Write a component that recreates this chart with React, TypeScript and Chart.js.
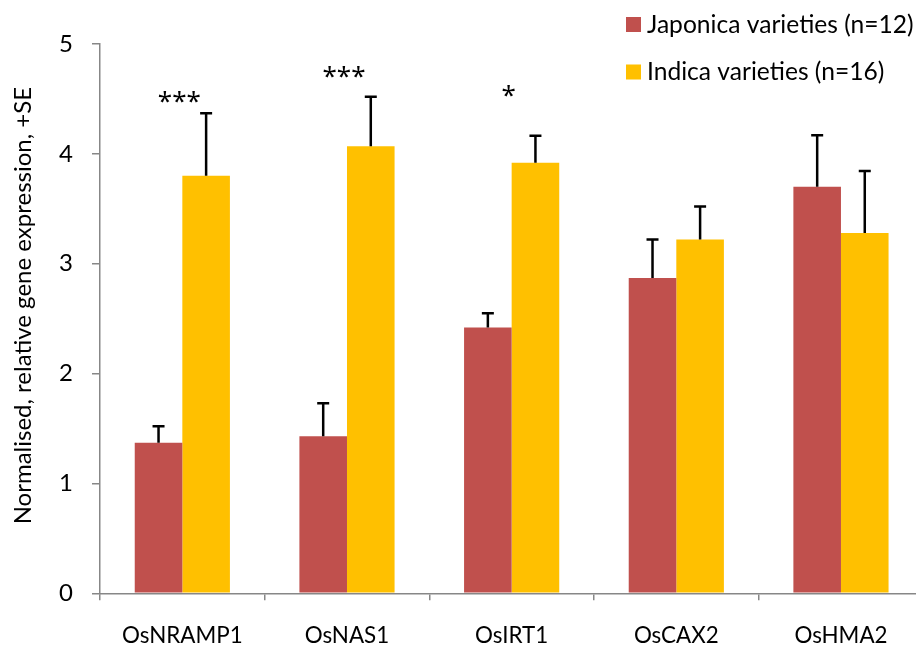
import { useEffect, useRef } from "react";
import { Chart, registerables } from "chart.js";

Chart.register(...registerables);

// Gene expression data (mean and standard error)
const genes = ["OsNRAMP1", "OsNAS1", "OsIRT1", "OsCAX2", "OsHMA2"];
const japonicaMean = [1.37, 1.43, 2.42, 2.87, 3.7];
const japonicaSE = [0.15, 0.3, 0.13, 0.35, 0.47];
const indicaMean = [3.8, 4.07, 3.92, 3.22, 3.28];
const indicaSE = [0.57, 0.45, 0.245, 0.3, 0.565];
const significance = ["***", "***", "*", "", ""];
const seriesNames = ["Japonica varieties (n=12)", "Indica varieties (n=16)"];
const yTickValues = [0, 1, 2, 3, 4, 5];

const RED = "#C0504D";
const YELLOW = "#FFC000";
const AXIS = "#878787";
const FONT = "Lato, 'Liberation Sans', sans-serif";

// heights (in data units) where the significance stars sit
const starLevels = [4.5, 4.73, 4.55, 0, 0];

export default function App() {
  const ref = useRef<HTMLCanvasElement | null>(null);

  useEffect(() => {
    if (!ref.current) return;
    const errors = [japonicaSE, indicaSE];

    const errorBars = {
      id: "errorBars",
      afterDatasetsDraw(chart: any) {
        const ctx = chart.ctx;
        const y = chart.scales.y;
        ctx.save();
        ctx.strokeStyle = "#000";
        ctx.lineWidth = 2.5;
        chart.data.datasets.forEach((ds: any, i: number) => {
          const meta = chart.getDatasetMeta(i);
          meta.data.forEach((bar: any, j: number) => {
            const v = ds.data[j];
            const base = y.getPixelForValue(v);
            const top = y.getPixelForValue(v + errors[i][j]);
            ctx.beginPath();
            ctx.moveTo(bar.x, base);
            ctx.lineTo(bar.x, top);
            ctx.moveTo(bar.x - 6, top);
            ctx.lineTo(bar.x + 6, top);
            ctx.stroke();
          });
        });
        ctx.restore();
      },
    };

    const extras = {
      id: "extras",
      afterDraw(chart: any) {
        const ctx = chart.ctx;
        const x = chart.scales.x;
        const y = chart.scales.y;
        const area = chart.chartArea;
        ctx.save();
        // significance stars
        ctx.fillStyle = "#000";
        ctx.font = "26px 'Noto Sans', sans-serif";
        ctx.textAlign = "center";
        ctx.textBaseline = "alphabetic";
        significance.forEach((s, i) => {
          if (!s) return;
          const px = x.getPixelForValue(i) - 3;
          const py = y.getPixelForValue(starLevels[i]);
          ctx.fillText(s, px, py + 11);
        });
        // y-axis title
        ctx.font = `24px ${FONT}`;
        ctx.save();
        ctx.translate(23, (area.top + area.bottom) / 2 - 13);
        ctx.rotate(-Math.PI / 2);
        ctx.textAlign = "center";
        ctx.textBaseline = "middle";
        ctx.fillText("Normalised, relative gene expression, +SE", 0, 0);
        ctx.restore();
        // legend
        const colors = [RED, YELLOW];
        ctx.font = `24.6px ${FONT}`;
        ctx.textAlign = "left";
        ctx.textBaseline = "middle";
        seriesNames.forEach((name, i) => {
          const top = 17 + i * 47.5;
          ctx.fillStyle = colors[i];
          ctx.fillRect(626, top, 15, 15);
          ctx.fillStyle = "#000";
          ctx.fillText(name, 647, top + 8);
        });
        ctx.restore();
      },
    };

    const chart = new Chart(ref.current, {
      type: "bar",
      data: {
        labels: genes,
        datasets: [
          {
            label: seriesNames[0],
            data: japonicaMean,
            backgroundColor: RED,
            categoryPercentage: 0.578,
            barPercentage: 1,
          },
          {
            label: seriesNames[1],
            data: indicaMean,
            backgroundColor: YELLOW,
            categoryPercentage: 0.578,
            barPercentage: 1,
          },
        ],
      },
      options: {
        animation: false,
        responsive: false,
        maintainAspectRatio: false,
        layout: { padding: { top: 44, right: 16.7, bottom: 0, left: 0 } },
        plugins: { legend: { display: false }, tooltip: { enabled: false } },
        scales: {
          x: {
            afterFit(scale: any) {
              scale.height = 53.7;
            },
            grid: {
              offset: true,
              drawOnChartArea: false,
              drawTicks: true,
              tickLength: 7,
              color: AXIS,
              lineWidth: 1.5,
            },
            border: { color: AXIS, width: 1.5 },
            ticks: { color: "#000", font: { family: FONT, size: 22.4 }, padding: 22 },
          },
          y: {
            min: 0,
            max: 5,
            afterFit(scale: any) {
              scale.width = 100;
            },
            afterBuildTicks(scale: any) {
              scale.ticks = yTickValues.map((v) => ({ value: v }));
            },
            grid: {
              drawOnChartArea: false,
              drawTicks: true,
              tickLength: 8,
              color: AXIS,
              lineWidth: 1.5,
            },
            border: { color: AXIS, width: 1.5 },
            ticks: { color: "#000", font: { family: FONT, size: 24 }, padding: 19 },
          },
        },
      },
      plugins: [errorBars, extras],
    });
    return () => chart.destroy();
  }, []);

  return (
    <div
      style={{
        position: "fixed",
        left: 0,
        top: 0,
        width: 916,
        height: 647,
        overflow: "hidden",
        background: "#fff",
      }}
    >
      <canvas ref={ref} width={940} height={647} style={{ display: "block" }} />
    </div>
  );
}
